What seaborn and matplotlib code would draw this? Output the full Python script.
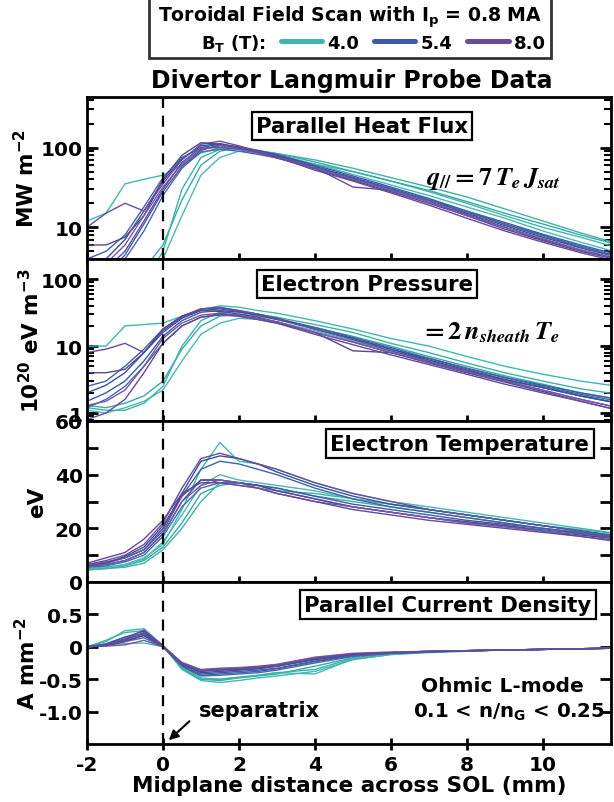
import numpy as np
import pandas as pd
import matplotlib
matplotlib.use("Agg")
import matplotlib.pyplot as plt
import seaborn as sns
from matplotlib.lines import Line2D
from matplotlib.ticker import LogLocator, NullFormatter, FixedLocator, FixedFormatter

# ---------------- data ----------------
x_mm = [-2, -1.5, -1, -0.5, 0, 0.5, 1, 1.5, 2, 2.5, 3, 4, 5, 6, 7, 8, 9, 10, 11, 12]
fields = ["4.0", "5.4", "8.0"]

q_par_4p0 = [
    [12, 15, 35, 40, 45, 60, 85, 100, 95, 85, 80, 62, 50, 38, 28, 20, 14, 10, 7.5, 5.5],
    [1, 1.5, 2, 3, 6, 22, 60, 90, 100, 92, 84, 66, 50, 38, 29, 21, 15, 11, 8, 6],
    [1, 1.2, 1.6, 2.5, 4, 14, 45, 75, 90, 88, 80, 62, 46, 34, 25, 18, 13, 9, 6.5, 4.8],
    [1, 1, 1.3, 2, 5, 30, 75, 95, 98, 90, 84, 70, 55, 42, 32, 24, 17, 12, 8.5, 6.2],
]
q_par_5p4 = [
    [2, 3, 5, 12, 30, 65, 100, 110, 102, 92, 82, 60, 44, 32, 23, 16, 11.5, 8.2, 6, 4.5],
    [1.5, 2.5, 4, 9, 25, 55, 88, 95, 90, 82, 74, 56, 42, 31, 22, 16, 11, 8, 5.8, 4.3],
    [3, 4, 7, 16, 38, 72, 105, 112, 100, 90, 80, 58, 42, 30, 22, 15, 10.5, 7.5, 5.5, 4.2],
    [4, 5, 8, 18, 42, 75, 98, 100, 95, 88, 78, 57, 41, 30, 22, 15.5, 11, 7.8, 5.6, 4.3],
]
q_par_8p0 = [
    [10, 15, 20, 16, 35, 70, 110, 120, 105, 90, 78, 56, 32, 29, 21, 14.5, 10, 7, 5.2, 4],
    [6, 6, 7.5, 14, 40, 80, 115, 110, 98, 86, 74, 54, 39, 28, 20, 14, 9.5, 6.8, 5, 3.9],
    [2.5, 3.5, 6, 14, 32, 62, 95, 105, 95, 85, 75, 55, 40, 29, 21, 14, 10, 7.2, 5.2, 4],
    [1.5, 2.5, 4.5, 11, 28, 58, 92, 108, 100, 88, 76, 52, 38, 27, 19, 13, 9, 6.5, 4.8, 3.7],
]

p_e_4p0 = [
    [10, 10, 20, 21, 22, 28, 35, 40, 38, 34, 31, 24, 18, 13, 10, 7, 5, 3.8, 3, 2.5],
    [1.3, 1.2, 1.4, 1.8, 3, 9, 20, 28, 30, 28, 25, 19, 14, 10, 7, 5, 3.6, 2.7, 2, 1.6],
    [1.1, 1.0, 1.2, 1.5, 2.2, 6, 15, 22, 26, 25, 23, 17, 12, 8.5, 6, 4.3, 3.1, 2.4, 1.8, 1.4],
    [1.2, 1.1, 1.1, 1.4, 2.5, 10, 24, 32, 33, 30, 27, 21, 16, 11, 8, 5.6, 4, 3, 2.3, 1.9],
]
p_e_5p4 = [
    [1.5, 2, 3, 6, 14, 24, 32, 34, 32, 29, 26, 18, 13, 9, 6.5, 4.6, 3.4, 2.6, 2, 1.6],
    [1.2, 1.6, 2.5, 5, 11, 20, 27, 29, 28, 25, 22, 16, 11.5, 8, 5.8, 4.2, 3.1, 2.4, 1.8, 1.4],
    [2, 2.6, 4, 8, 16, 26, 34, 36, 33, 29, 25, 18, 13, 9, 6.2, 4.4, 3.2, 2.4, 1.8, 1.4],
    [2.5, 3, 5, 9, 18, 28, 36, 37, 34, 30, 26, 19, 13.5, 9.5, 6.6, 4.7, 3.4, 2.5, 1.9, 1.5],
]
p_e_8p0 = [
    [8, 9, 11, 8, 17, 27, 36, 38, 34, 30, 26, 18, 12.5, 8.5, 6, 4.2, 3, 2.2, 1.6, 1.2],
    [4, 4, 4.5, 8, 18, 28, 34, 33, 30, 27, 23, 16, 8.5, 8, 5.6, 4, 2.9, 2.1, 1.5, 1.1],
    [1.3, 1.5, 2.2, 5, 13, 22, 29, 31, 29, 26, 23, 16, 11.5, 8, 5.8, 4.1, 3, 2.2, 1.6, 1.2],
    [0.8, 1.0, 1.6, 4, 11, 20, 27, 30, 28, 25, 22, 15, 10.5, 7.4, 5.3, 3.8, 2.7, 2.0, 1.5, 1.1],
]

t_e_4p0 = [
    [5, 5.5, 6.5, 9, 14, 27, 42, 52, 45, 44, 42, 37, 33, 30, 28, 26, 24, 22, 20, 18],
    [4.5, 5, 6, 8, 13, 22, 33, 36, 37, 36, 35, 32, 30, 28, 26, 24, 22, 20, 18.5, 17],
    [5, 5.5, 6.5, 8.5, 15, 25, 36, 40, 38, 37, 36, 34, 31, 29, 27, 25, 23, 21, 19, 17.5],
    [4.5, 5, 5.5, 7, 12, 20, 30, 37, 36, 35, 34, 33, 31, 29, 27, 25, 23, 21, 19.5, 18],
]
t_e_5p4 = [
    [6, 6.5, 8, 11, 18, 30, 38, 38, 37, 36, 35, 32, 29, 27, 25, 23, 21.5, 20, 18, 16.5],
    [5.5, 6, 7.5, 10, 17, 28, 35, 37, 37, 36, 34, 31, 28, 26, 24, 22, 21, 19.5, 18, 16],
    [6, 7, 9, 12, 20, 33, 45, 47, 46, 44, 41, 36, 32, 29, 27, 25, 23, 21, 19, 17],
    [6.5, 7.5, 9, 12, 19, 32, 42, 45, 44, 42, 40, 35, 31, 28, 26, 24, 22, 20, 18.5, 16.5],
]
t_e_8p0 = [
    [6.5, 8, 10, 14, 22, 35, 46, 48, 46, 44, 42, 37, 33, 30, 27, 25, 23, 21, 19, 17],
    [6, 7, 9.5, 13, 21, 32, 38, 38, 37, 36, 34, 31, 28, 26, 24, 22.5, 21, 19, 17.5, 16],
    [5.5, 6.5, 8, 11, 18, 30, 36, 38, 37, 35, 33, 30, 28, 26, 24, 22, 20.5, 19, 17, 15.5],
    [7, 9, 11, 16, 23, 33, 37, 37, 36, 35, 33, 30, 27, 25, 23, 21.5, 20, 18.5, 17, 15],
]

j_par_4p0 = [
    [0, 0.08, 0.25, 0.28, 0.02, -0.35, -0.52, -0.55, -0.52, -0.48, -0.45, -0.38, -0.2, -0.12, -0.09, -0.07, -0.05, -0.04, -0.03, -0.02],
    [0, 0.05, 0.15, 0.2, 0.0, -0.32, -0.5, -0.52, -0.48, -0.45, -0.42, -0.3, -0.17, -0.11, -0.08, -0.06, -0.05, -0.04, -0.03, -0.02],
    [0, 0.02, 0.05, 0.06, 0.0, -0.3, -0.48, -0.5, -0.47, -0.44, -0.4, -0.42, -0.19, -0.12, -0.08, -0.06, -0.05, -0.04, -0.03, -0.02],
    [0, 0.1, 0.22, 0.25, 0.01, -0.33, -0.5, -0.5, -0.47, -0.44, -0.4, -0.35, -0.18, -0.11, -0.08, -0.06, -0.05, -0.04, -0.03, -0.02],
]
j_par_5p4 = [
    [0, 0.03, 0.12, 0.2, 0.01, -0.28, -0.42, -0.4, -0.38, -0.36, -0.33, -0.22, -0.13, -0.1, -0.08, -0.06, -0.05, -0.04, -0.03, -0.02],
    [0, 0.02, 0.08, 0.14, 0.0, -0.3, -0.45, -0.44, -0.42, -0.4, -0.36, -0.25, -0.15, -0.1, -0.08, -0.06, -0.05, -0.04, -0.03, -0.02],
    [0, 0.04, 0.15, 0.24, 0.01, -0.26, -0.4, -0.38, -0.36, -0.34, -0.3, -0.2, -0.12, -0.09, -0.07, -0.06, -0.05, -0.04, -0.03, -0.02],
    [0, 0.03, 0.1, 0.17, 0.0, -0.29, -0.44, -0.42, -0.4, -0.38, -0.34, -0.23, -0.14, -0.1, -0.08, -0.06, -0.05, -0.04, -0.03, -0.02],
]
j_par_8p0 = [
    [0, 0.03, 0.12, 0.26, 0.02, -0.25, -0.36, -0.34, -0.33, -0.31, -0.28, -0.17, -0.11, -0.09, -0.07, -0.06, -0.05, -0.04, -0.03, -0.02],
    [0, 0.02, 0.08, 0.18, 0.01, -0.27, -0.38, -0.36, -0.35, -0.33, -0.3, -0.19, -0.12, -0.09, -0.07, -0.06, -0.05, -0.04, -0.03, -0.02],
    [0, 0.01, 0.03, 0.1, 0.0, -0.24, -0.35, -0.33, -0.32, -0.3, -0.27, -0.16, -0.1, -0.08, -0.07, -0.06, -0.05, -0.04, -0.03, -0.02],
    [0, 0.02, 0.1, 0.22, 0.01, -0.26, -0.37, -0.35, -0.34, -0.32, -0.29, -0.18, -0.11, -0.09, -0.07, -0.06, -0.05, -0.04, -0.03, -0.02],
]

panel_titles = ["Parallel Heat Flux", "Electron Pressure", "Electron Temperature", "Parallel Current Density"]
y_labels = [r"MW m$^{-2}$", r"10$^{20}$ eV m$^{-3}$", "eV", r"A mm$^{-2}$"]
x_ticks = [-2, 0, 2, 4, 6, 8, 10]

# ---------------- style ----------------
field_colors = {"4.0": "#3db7ae", "5.4": "#3b5ba8", "8.0": "#6a4c9e"}
profile_colors = {
    "4.0": ["#3dbab0", "#35aaa8", "#4cb8b6", "#3fb2a6"],
    "5.4": ["#3b5ba8", "#4568b0", "#33519c", "#3f62a9"],
    "8.0": ["#6a4c9e", "#5c4493", "#7656a2", "#654a98"],
}

sns.set_theme(style="ticks")
plt.rcParams["font.family"] = ["DejaVu Sans"]
plt.rcParams["font.weight"] = "bold"
plt.rcParams["mathtext.fontset"] = "custom"
plt.rcParams["mathtext.rm"] = "DejaVu Sans:bold"
plt.rcParams["mathtext.bf"] = "DejaVu Sans:bold"
plt.rcParams["mathtext.it"] = "DejaVu Sans:bold:italic"
plt.rcParams["mathtext.default"] = "rm"
plt.rcParams["axes.linewidth"] = 2.0
for key in ["text.color", "axes.labelcolor", "xtick.color", "ytick.color", "axes.edgecolor"]:
    plt.rcParams[key] = "black"


def long_frame(groups):
    rows = []
    for fld, profs in zip(fields, groups):
        for k, prof in enumerate(profs):
            for xv, yv in zip(x_mm, prof):
                rows.append({"x": xv, "y": yv, "profile": f"{fld}-{k}"})
    return pd.DataFrame(rows)


datasets = [
    long_frame([q_par_4p0, q_par_5p4, q_par_8p0]),
    long_frame([p_e_4p0, p_e_5p4, p_e_8p0]),
    long_frame([t_e_4p0, t_e_5p4, t_e_8p0]),
    long_frame([j_par_4p0, j_par_5p4, j_par_8p0]),
]
palette = {f"{fld}-{k}": profile_colors[fld][k] for fld in fields for k in range(4)}

W, H = 614, 803
fig = plt.figure(figsize=(W / 100, H / 100), dpi=100)
left_px, right_px = 87, 611
edges_px = [98, 260, 422, 583, 745]
axes = []
for i in range(4):
    top, bot = edges_px[i], edges_px[i + 1]
    ax = fig.add_axes([left_px / W, 1 - bot / H, (right_px - left_px) / W, (bot - top) / H])
    axes.append(ax)

ylims = [(4, 430), (0.76, 200), (0, 60), (-1.5, 1.0)]
label_x_px = [38, 43, 47, 39]
for i, ax in enumerate(axes):
    sns.lineplot(data=datasets[i], x="x", y="y", hue="profile", palette=palette,
                 estimator=None, legend=False, lw=1.0, ax=ax, sort=False)
    if i < 2:
        ax.set_yscale("log")
    ax.set_xlim(-2, 11.8)
    ax.set_ylim(*ylims[i])
    ax.axvline(0, color="black", lw=1.6, ls=(0, (5, 3.5)), zorder=5)
    ax.set_xticks(x_ticks)
    ax.tick_params(axis="x", direction="inout", length=9, width=2, top=False, colors="black")
    ax.tick_params(axis="y", which="both", direction="in", length=8, width=2,
                   right=True, labelsize=14.5, pad=3, colors="black")
    ax.tick_params(axis="x", labelsize=14.5)
    ax.set_xlabel("")
    ax.set_ylabel(y_labels[i], fontsize=15.5, fontweight="bold", color="black")
    ax.yaxis.set_label_coords((label_x_px[i] - left_px) / (right_px - left_px), 0.5)
    if i < 3:
        ax.tick_params(axis="x", labelbottom=False)
    for s in ax.spines.values():
        s.set_linewidth(2.0)
        s.set_color("black")
    ax.set_facecolor("white")

# y ticks per panel
axes[0].yaxis.set_major_locator(FixedLocator([10, 100]))
axes[0].yaxis.set_major_formatter(FixedFormatter(["10", "100"]))
axes[0].yaxis.set_minor_locator(LogLocator(base=10, subs=np.arange(2, 10)))
axes[0].yaxis.set_minor_formatter(NullFormatter())
axes[0].tick_params(axis="y", which="minor", length=5, width=1.5)

axes[1].yaxis.set_major_locator(FixedLocator([1, 10, 100]))
axes[1].yaxis.set_major_formatter(FixedFormatter(["1", "10", "100"]))
axes[1].yaxis.set_minor_locator(LogLocator(base=10, subs=np.arange(2, 10)))
axes[1].yaxis.set_minor_formatter(NullFormatter())
axes[1].tick_params(axis="y", which="minor", length=5, width=1.5)

axes[2].yaxis.set_major_locator(FixedLocator([0, 20, 40, 60]))
axes[2].yaxis.set_major_formatter(FixedFormatter(["0", "20", "40", "60"]))
axes[2].yaxis.set_minor_locator(FixedLocator([10, 30, 50]))

axes[3].yaxis.set_major_locator(FixedLocator([-1.0, -0.5, 0, 0.5]))
axes[3].yaxis.set_major_formatter(FixedFormatter(["-1.0", "-0.5", "0", "0.5"]))
axes[3].set_xticklabels([str(t) for t in x_ticks])
axes[3].set_xlabel("Midplane distance across SOL (mm)", fontsize=15.5, fontweight="bold",
                   labelpad=1, color="black")

# panel label boxes
box = dict(boxstyle="square,pad=0.2", fc="white", ec="black", lw=1.6)
label_pos = [(5.24, 0.82), (5.37, 0.845), (7.82, 0.86), (7.5, 0.86)]
for ax, t, (xp, yp) in zip(axes, panel_titles, label_pos):
    ax.text(xp, yp, t, transform=ax.get_xaxis_transform(), ha="center", va="center",
            fontsize=15.3, fontweight="bold", bbox=box, zorder=6)

# formulas
axes[0].text(8.7, 0.5, r"$\mathit{q}_{\mathit{//}} = 7\,\mathit{T_e}\,\mathit{J_{sat}}$",
             transform=axes[0].get_xaxis_transform(),
             ha="center", va="center", fontsize=19, math_fontfamily="stix")
axes[1].text(8.6, 0.55, r"$= 2\,\mathit{n_{sheath}}\,\mathit{T_e}$",
             transform=axes[1].get_xaxis_transform(),
             ha="center", va="center", fontsize=19, math_fontfamily="stix")

# bottom annotations
axes[3].text(8.93, -0.6, "Ohmic L-mode", ha="center", va="center", fontsize=14.5, fontweight="bold")
axes[3].text(9.1, -1.0, r"0.1 < n/n$_G$ < 0.25", ha="center", va="center", fontsize=14.2, fontweight="bold")
axes[3].text(0.95, -0.97, "separatrix", ha="left", va="center", fontsize=15, fontweight="bold")
axes[3].annotate("", xy=(0.1, -1.47), xytext=(0.75, -1.12),
                 arrowprops=dict(arrowstyle="-|>", color="black", lw=1.5, mutation_scale=14))

# title and legend
fig.text(352 / W, 1 - 81 / H, "Divertor Langmuir Probe Data", ha="center", va="center",
         fontsize=17, fontweight="bold")
handles = [Line2D([], [], color="none")] + [Line2D([], [], color=field_colors[f], lw=3.6) for f in fields]
labels = [r"B$_T$ (T):"] + fields
leg = fig.legend(handles, labels, ncol=4, loc="center", bbox_to_anchor=(350 / W, 1 - 29 / H),
                 title=r"Toroidal Field Scan with I$_p$ = 0.8 MA", frameon=True, fancybox=False,
                 handlelength=2.3, handletextpad=0.3, columnspacing=0.8, borderpad=0.3,
                 prop={"size": 13, "weight": "bold"},
                 title_fontproperties={"size": 13.6, "weight": "bold"})
leg.get_frame().set_edgecolor("black")
leg.get_frame().set_linewidth(2.0)
leg._legend_box.sep = 2

fig.savefig("out.png", dpi=100, facecolor="white")
